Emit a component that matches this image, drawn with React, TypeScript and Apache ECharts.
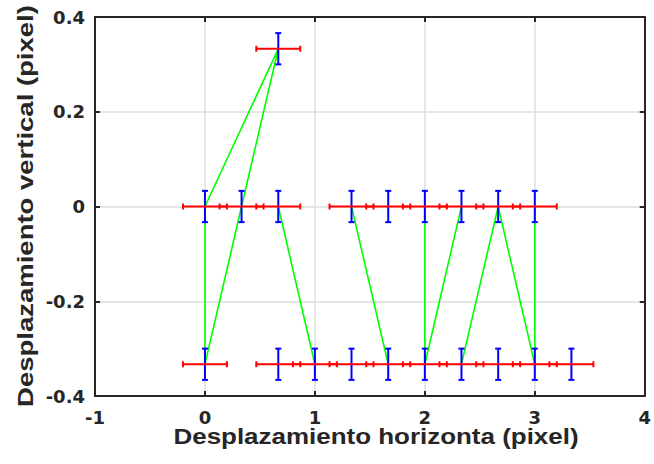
import React, { useEffect, useRef } from "react";
import * as echarts from "echarts";

// Data points (x, y) in pixels
const pointX = [0, 0.333, 0.667, 1.333, 1.667, 2, 2.333, 2.667, 3, 0.667, 0, 0.667, 1, 1.333, 1.667, 2, 2.333, 2.667, 3, 3.333];
const pointY = [0, 0, 0, 0, 0, 0, 0, 0, 0, 0.333, -0.333, -0.333, -0.333, -0.333, -0.333, -0.333, -0.333, -0.333, -0.333, -0.333];
const errX = 0.2;
const errY = 0.033;

// Green trajectory segments (null = break)
const pathX = [0, 0, 0.667, 0.333, 0, null, 0.667, 1, null, 1.333, 1.667, null, 2, 2, 2.333, null, 2.333, 2.667, 3, 3];
const pathY = [-0.333, 0, 0.333, 0, -0.333, null, 0, -0.333, null, 0, -0.333, null, 0, -0.333, 0, null, -0.333, 0, -0.333, 0];

const xTicks = [-1, 0, 1, 2, 3, 4];
const yTicks = [-0.4, -0.2, 0, 0.2, 0.4];

const xTitle = "Desplazamiento horizonta (pixel)";
const yTitle = "Desplazamiento vertical (pixel)";

const FONT = "Liberation Sans, Arial, Helvetica, sans-serif";
const TICKFONT = "DejaVu Sans, Liberation Sans, Arial, sans-serif";
const AX = "#262626";

export default function App() {
  const ref = useRef<HTMLDivElement>(null);
  useEffect(() => {
    if (!ref.current) return;
    const chart = echarts.init(ref.current, undefined, { renderer: "svg" });

    const segments: number[][][] = [];
    let cur: number[][] = [];
    for (let i = 0; i < pathX.length; i++) {
      if (pathX[i] === null || pathY[i] === null) {
        if (cur.length) segments.push(cur);
        cur = [];
      } else cur.push([pathX[i] as number, pathY[i] as number]);
    }
    if (cur.length) segments.push(cur);

    const pts = pointX.map((x, i) => [x, pointY[i]]);

    const greenSeries = segments.map((seg) => ({
      type: "line",
      data: seg,
      symbol: "none",
      lineStyle: { color: "#00ff00", width: 1.6 },
      z: 2,
      silent: true,
    }));

    const blue = {
      type: "custom",
      data: pts,
      z: 3,
      silent: true,
      renderItem: (_p: any, api: any) => {
        const x = api.value(0);
        const y = api.value(1);
        const a = api.coord([x, y + errY]);
        const b = api.coord([x, y - errY]);
        const c = 3;
        const st = { stroke: "#0000ff", lineWidth: 2 };
        return {
          type: "group",
          children: [
            { type: "line", shape: { x1: a[0], y1: a[1], x2: b[0], y2: b[1] }, style: st },
            { type: "line", shape: { x1: a[0] - c, y1: a[1], x2: a[0] + c, y2: a[1] }, style: st },
            { type: "line", shape: { x1: b[0] - c, y1: b[1], x2: b[0] + c, y2: b[1] }, style: st },
          ],
        };
      },
    };

    const red = {
      type: "custom",
      data: pts,
      z: 4,
      silent: true,
      renderItem: (_p: any, api: any) => {
        const x = api.value(0);
        const y = api.value(1);
        const a = api.coord([x - errX, y]);
        const b = api.coord([x + errX, y]);
        const c = 3;
        const st = { stroke: "#ff0000", lineWidth: 2 };
        return {
          type: "group",
          children: [
            { type: "line", shape: { x1: a[0], y1: a[1], x2: b[0], y2: b[1] }, style: st },
            { type: "line", shape: { x1: a[0], y1: a[1] - c, x2: a[0], y2: a[1] + c }, style: st },
            { type: "line", shape: { x1: b[0], y1: b[1] - c, x2: b[0], y2: b[1] + c }, style: st },
          ],
        };
      },
    };

    const axisLine = { show: true, onZero: false, lineStyle: { color: AX, width: 2 } };
    const axisTick = { show: true, inside: true, length: 5, lineStyle: { color: AX, width: 2 } };
    const labelStyle = { color: AX, fontFamily: TICKFONT, fontWeight: "bold" as const, fontSize: 18 };

    chart.setOption({
      animation: false,
      backgroundColor: "#ffffff",
      grid: { left: 95, right: 3, top: 17, bottom: 68, containLabel: false },
      graphic: [
        {
          type: "text",
          x: 376,
          y: 436,
          scaleX: 1.18,
          style: {
            text: xTitle,
            fill: AX,
            font: `bold 22px ${FONT}`,
            textAlign: "center",
            textVerticalAlign: "middle",
          },
        },
        {
          type: "text",
          x: 25,
          y: 206,
          rotation: Math.PI / 2,
          scaleX: 1.25,
          style: {
            text: yTitle,
            fill: AX,
            font: `bold 22px ${FONT}`,
            textAlign: "center",
            textVerticalAlign: "middle",
          },
        },
      ],
      xAxis: [
        {
          type: "value",
          min: xTicks[0],
          max: xTicks[xTicks.length - 1],
          interval: 1,
          position: "bottom",
          axisLine,
          axisTick,
          axisLabel: { ...labelStyle, margin: 12, formatter: (v: number) => String(v) },
          splitLine: { show: true, lineStyle: { color: "#dedede", width: 1.5 } },
        },
        {
          type: "value",
          min: xTicks[0],
          max: xTicks[xTicks.length - 1],
          interval: 1,
          position: "top",
          axisLine,
          axisTick,
          axisLabel: { show: false },
          splitLine: { show: false },
        },
      ],
      yAxis: [
        {
          type: "value",
          min: yTicks[0],
          max: yTicks[yTicks.length - 1],
          interval: 0.2,
          position: "left",
          axisLine,
          axisTick,
          axisLabel: { ...labelStyle, margin: 10, formatter: (v: number) => (Math.abs(v) < 1e-9 ? "0" : String(Math.round(v * 10) / 10)) },
          splitLine: { show: true, lineStyle: { color: "#dedede", width: 1.5 } },
        },
        {
          type: "value",
          min: yTicks[0],
          max: yTicks[yTicks.length - 1],
          interval: 0.2,
          position: "right",
          axisLine,
          axisTick,
          axisLabel: { show: false },
          splitLine: { show: false },
        },
      ],
      series: [...greenSeries, blue, red],
    });
    return () => chart.dispose();
  }, []);
  return <div ref={ref} style={{ width: 654, height: 464, position: "absolute", left: 0, top: 0 }} />;
}
